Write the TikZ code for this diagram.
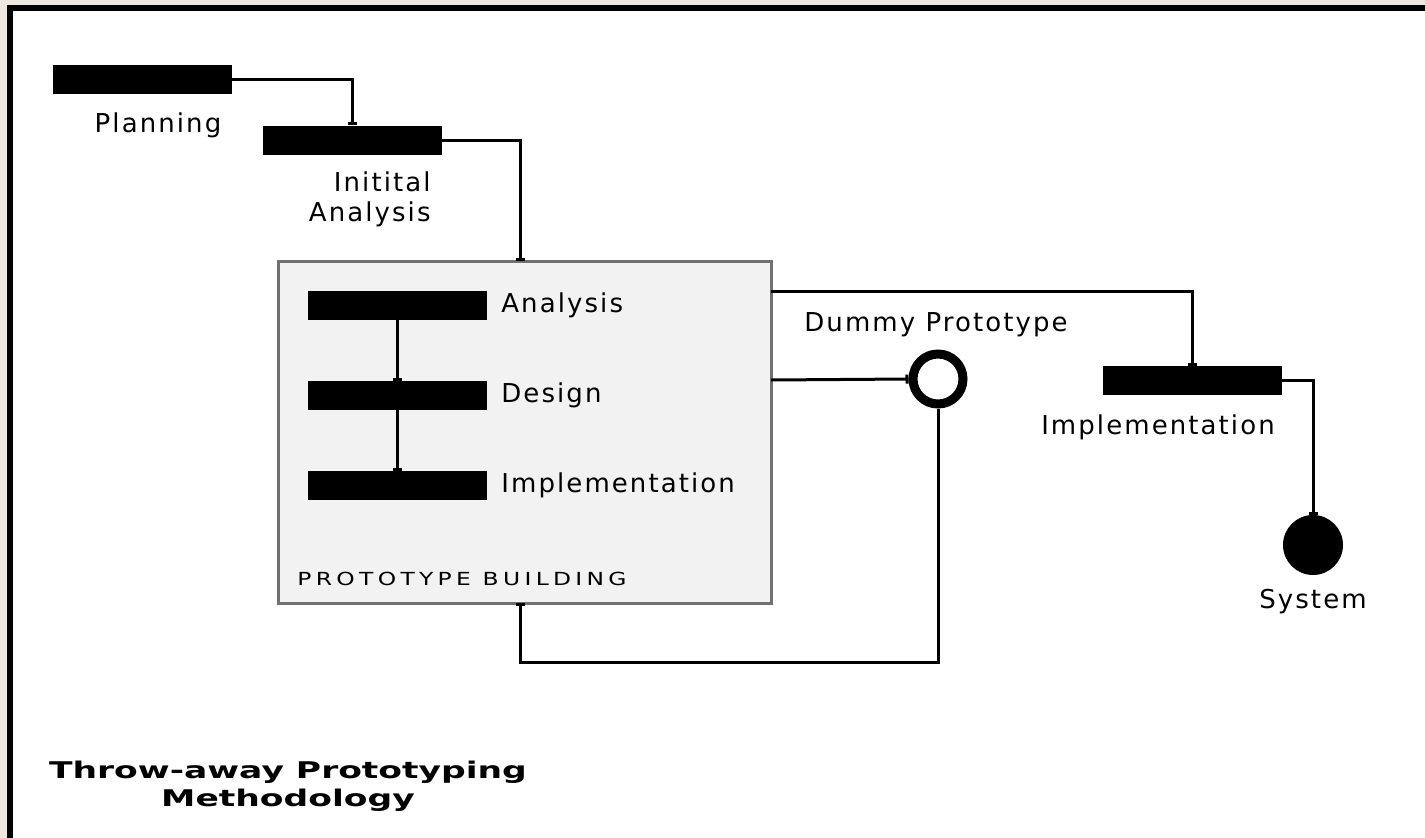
\documentclass[tikz,border=0pt]{standalone}
\usepackage{fontspec}
\usepackage{tikz}
\usetikzlibrary{arrows.meta}
\setmainfont{DejaVu Sans}
\newfontfamily\pixfont[LetterSpace=8]{DejaVu Sans}
\newfontfamily\capsfont[FakeStretch=1.3, LetterSpace=24]{DejaVu Sans}
\newfontfamily\titlefont[FakeStretch=1.5]{DejaVu Sans}
\definecolor{paper}{RGB}{238, 230, 223}
\definecolor{panel}{RGB}{242, 242, 242}
\definecolor{rim}{RGB}{112, 112, 112}

\tikzset{
  bar/.style={fill=black, minimum width=179pt, minimum height=29pt, inner sep=0pt},
  lbl/.style={font=\pixfont\fontsize{26}{30}\selectfont, inner sep=0pt},
  link/.style={line width=3pt, -{Bar[width=9pt, line width=3pt]}},
}

\begin{document}
\begin{tikzpicture}[x=1pt, y=-1pt, thick]
  \useasboundingbox (0, 0) rectangle (1425, 838);

  % Frame
  \fill[paper] (0, 0) rectangle (1425, 838);
  \fill[black] (7, 5) rectangle (1425, 838);
  \fill[white] (13, 11) rectangle (1425, 838);

  % Planning and initial analysis
  \node[bar] (plan) at (142.5, 79.5) {};
  \node[lbl] (planlbl) at (158, 125) {Planning};
  \node[bar] (initan) at (352.5, 140) {};
  \node[lbl, anchor=east, align=right] (initanlbl) at (431, 199) {Initital\\Analysis};

  % Prototype building
  \node[draw=rim, fill=panel, line width=3pt, minimum width=493pt, minimum height=342pt, inner sep=0pt] (proto) at (524.5, 432) {};
  \node[bar] (ana) at (397.5, 305.5) {};
  \node[bar] (des) at (397.5, 395.5) {};
  \node[bar] (impl) at (397.5, 485.5) {};
  \node[lbl, anchor=west] (analbl) at (501, 305) {Analysis};
  \node[lbl, anchor=west] (deslbl) at (501, 395) {Design};
  \node[lbl, anchor=west] (impllbl) at (501, 485) {Implementation};
  \node[anchor=west, inner sep=0pt, font=\capsfont\fontsize{18}{20}\selectfont] (protolbl) at (297, 579) {PROTOTYPE BUILDING};

  \coordinate (pin) at (520, 261);
  \coordinate (pout1) at (771, 291);
  \coordinate (pout2) at (771, 380);
  \coordinate (pback) at (520, 662);
  \coordinate (pret) at (520, 603);

  % Dummy prototype
  \node[circle, draw, line width=9pt, fill=white, minimum size=50pt, inner sep=0pt] (dummy) at (938, 379) {};
  \node[lbl] (dummylbl) at (936, 325) {Dummy Prototype};

  % Implementation and system
  \node[bar] (impl2) at (1192.5, 380.5) {};
  \node[lbl] (impl2lbl) at (1158, 427) {Implementation};
  \node[circle, fill=black, minimum size=60pt, inner sep=0pt] (sys) at (1313, 545) {};
  \node[lbl] (syslbl) at (1313, 602) {System};

  % Links
  \draw[link] (plan.east) -| (initan.north);
  \draw[link] (initan.east) -| (pin);
  \draw[link] (ana.south) -- (des.north);
  \draw[link] (des.south) -- (impl.north);
  \draw[link] (pout1) -| (impl2.north);
  \draw[link] (pout2) -- (dummy.west);
  \draw[link] (dummy.south) |- (pback) -- (pret);
  \draw[link] (impl2.east) -| (sys.north);

  % Title
  \node[font=\titlefont\bfseries\fontsize{23}{28}\selectfont, align=center, inner sep=0pt] (title) at (288, 786) {Throw-away Prototyping\\Methodology};
\end{tikzpicture}
\end{document}
